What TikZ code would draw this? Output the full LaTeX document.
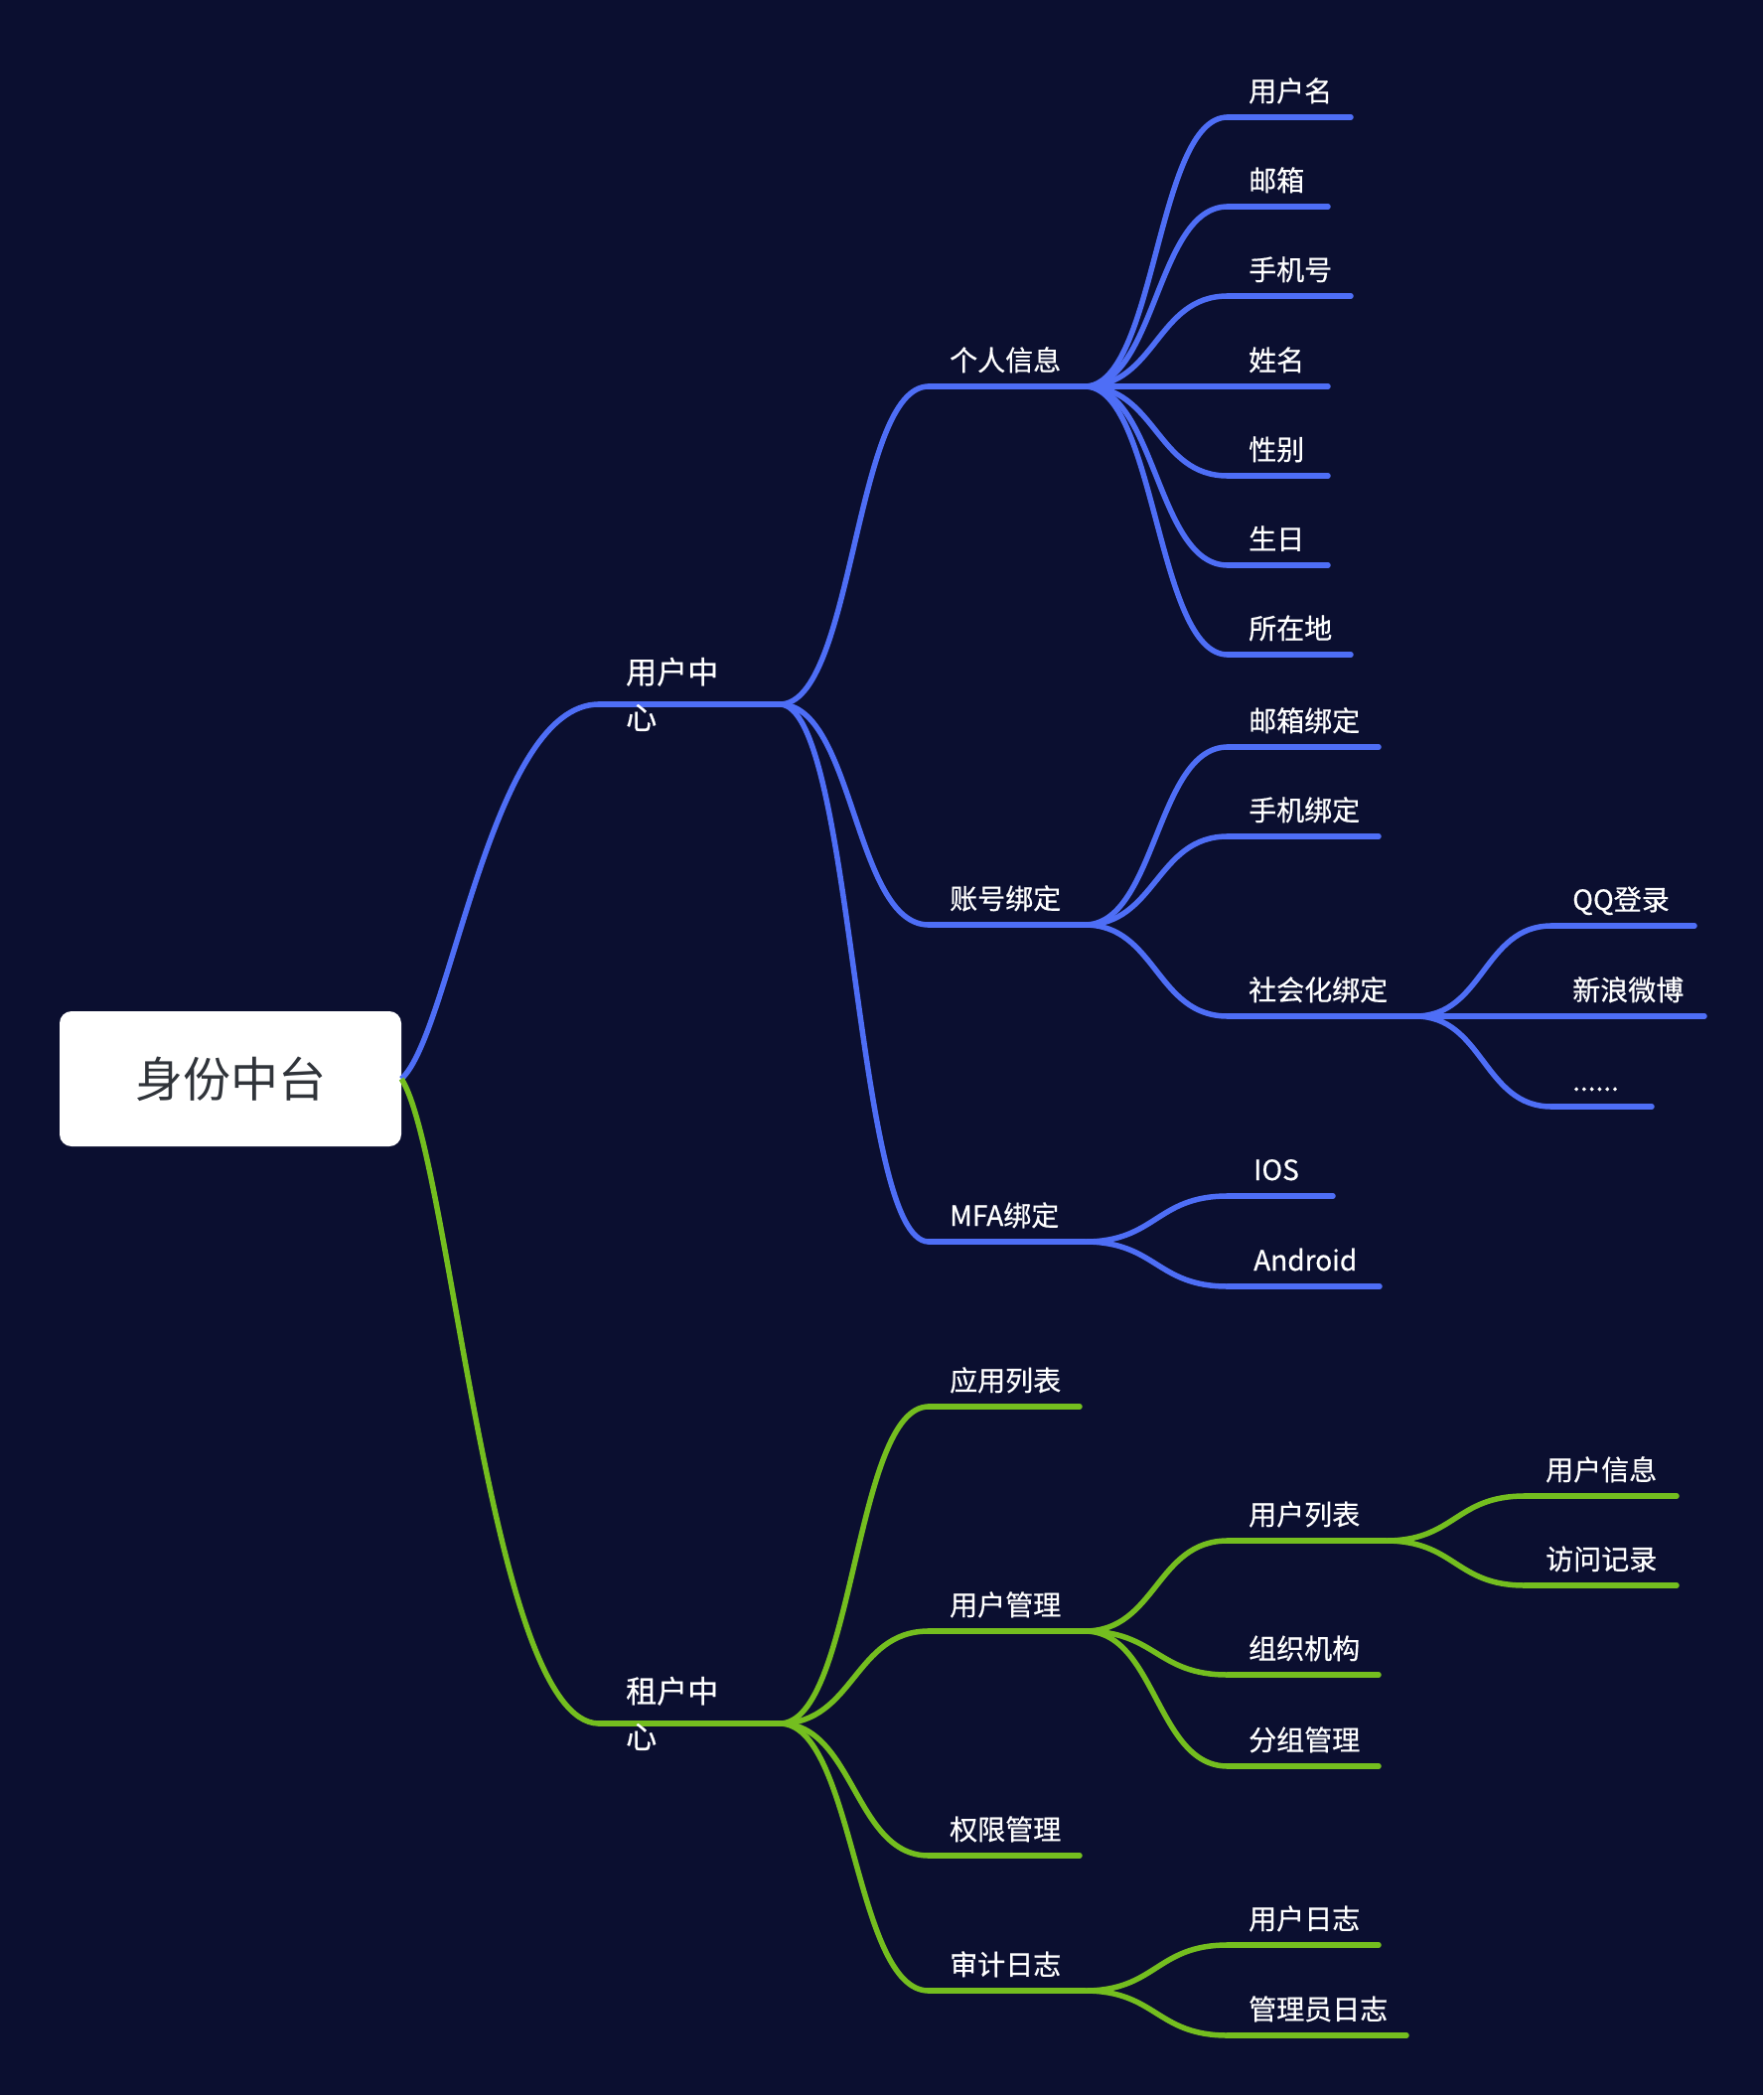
\documentclass[tikz,border=0pt]{standalone}
\usepackage{fontspec}
\setmainfont{Noto Sans CJK SC}
\newfontfamily\lblfont{Noto Sans CJK SC}[FakeBold=0.5]
\usetikzlibrary{calc}
\definecolor{bgc}{HTML}{0B0F30}
\definecolor{blc}{HTML}{4E6EF6}
\definecolor{grc}{HTML}{74BE1F}
\definecolor{rtc}{HTML}{30343A}
\tikzset{
  lbl/.style={anchor=base west, text=white, inner sep=0pt, font=\lblfont\fontsize{28}{34}\selectfont},
  lbltop/.style={anchor=base west, text=white, inner sep=0pt, align=left, font=\lblfont\fontsize{31}{46}\selectfont},
  bline/.style={line width=5.5pt, line cap=round, draw=blc},
  gline/.style={line width=5.5pt, line cap=round, draw=grc},
  rootlink/.style={line width=5.5pt, line cap=butt},
  rootbox/.style={fill=white, rounded corners=12pt, minimum width=344pt, minimum height=136pt, inner sep=0pt, text=rtc, font=\fontsize{48}{56}\selectfont},
}
% #1 name, #2 style, #3 x start, #4 x end, #5 y, #6 text
\newcommand\leaf[6]{%
  \coordinate (#1-s) at (#3,#5);
  \coordinate (#1-e) at (#4,#5);
  \draw[#2] (#1-s) -- (#1-e);
  \node[lbl] (#1) at ([xshift=21pt,yshift=16pt]#1-s) {#6};
}
\newcommand\leafx[6]{%
  \coordinate (#1-s) at (#3,#5);
  \coordinate (#1-e) at (#4,#5);
  \draw[#2] (#1-s) -- (#1-e);
  \node[lbl] (#1) at ([xshift=26pt,yshift=16pt]#1-s) {#6};
}
\newcommand\lnk[3]{\draw[#1] let \p1=(#2), \p2=(#3) in (#2) .. controls ({0.5*\x1+0.5*\x2},\y1) and ({0.5*\x1+0.5*\x2},\y2) .. (#3);}
\newcommand\rlnk[3]{\draw[#1] let \p1=(#2), \p2=(#3) in (#2) .. controls ({\x1+0.25*(\x2-\x1)},{\y1+0.12*(\y2-\y1)}) and ({\x1+0.45*(\x2-\x1)},\y2) .. (#3);}
\begin{document}
\begin{tikzpicture}[x=1pt,y=-1pt]
\fill[bgc] (0,0) rectangle (1775,2109);
\node[rootbox] (root) at (232,1086) {身份中台};

% ---- level 1
\coordinate (uc-s) at (603,709); \coordinate (uc-e) at (785,709);
\coordinate (zh-s) at (603,1735); \coordinate (zh-e) at (785,1735);
\rlnk{rootlink,draw=blc}{root.east}{uc-s}
\rlnk{rootlink,draw=grc}{root.east}{zh-s}
\draw[bline] (uc-s) -- (uc-e);
\draw[gline] (zh-s) -- (zh-e);
\node[lbltop] (uc) at ([xshift=27pt,yshift=-25pt]uc-s) {用户中\\心};
\node[lbltop] (zh) at ([xshift=27pt,yshift=-25pt]zh-s) {租户中\\心};

% ---- blue level 2
\leaf{gr}{bline}{935}{1092}{389}{个人信息}
\leaf{zb}{bline}{935}{1092}{931}{账号绑定}
\leaf{mfa}{bline}{935}{1092}{1250}{MFA绑定}
\lnk{bline}{uc-e}{gr-s}
\lnk{bline}{uc-e}{zb-s}
\lnk{bline}{uc-e}{mfa-s}

% ---- under 个人信息
\leaf{g1}{bline}{1236}{1360}{118}{用户名}
\leaf{g2}{bline}{1236}{1337}{208}{邮箱}
\leaf{g3}{bline}{1236}{1360}{298}{手机号}
\leaf{g4}{bline}{1236}{1337}{389}{姓名}
\leaf{g5}{bline}{1236}{1337}{479}{性别}
\leaf{g6}{bline}{1236}{1337}{569}{生日}
\leaf{g7}{bline}{1236}{1360}{659}{所在地}
\foreach \k in {g1,g2,g3,g4,g5,g6,g7}{\lnk{bline}{gr-e}{\k-s}}

% ---- under 账号绑定
\leaf{z1}{bline}{1236}{1388}{752}{邮箱绑定}
\leaf{z2}{bline}{1236}{1388}{842}{手机绑定}
\leaf{z3}{bline}{1236}{1425}{1023}{社会化绑定}
\foreach \k in {z1,z2,z3}{\lnk{bline}{zb-e}{\k-s}}
\leaf{s1}{bline}{1562}{1706}{932}{QQ登录}
\leaf{s2}{bline}{1562}{1716}{1023}{新浪微博}
\leaf{s3}{bline}{1562}{1663}{1114}{......}
\foreach \k in {s1,s2,s3}{\lnk{bline}{z3-e}{\k-s}}

% ---- under MFA绑定
\leafx{m1}{bline}{1236}{1342}{1204}{IOS}
\leafx{m2}{bline}{1236}{1389}{1295}{Android}
\foreach \k in {m1,m2}{\lnk{bline}{mfa-e}{\k-s}}

% ---- green level 2
\leaf{a1}{gline}{935}{1087}{1416}{应用列表}
\leaf{a2}{gline}{935}{1092}{1642}{用户管理}
\leaf{a3}{gline}{935}{1087}{1868}{权限管理}
\leaf{a4}{gline}{935}{1092}{2004}{审计日志}
\foreach \k in {a1,a2,a3,a4}{\lnk{gline}{zh-e}{\k-s}}

% ---- under 用户管理
\leaf{b1}{gline}{1236}{1395}{1551}{用户列表}
\leaf{b2}{gline}{1236}{1388}{1686}{组织机构}
\leaf{b3}{gline}{1236}{1388}{1778}{分组管理}
\foreach \k in {b1,b2,b3}{\lnk{gline}{a2-e}{\k-s}}
\leaf{c1}{gline}{1535}{1688}{1506}{用户信息}
\leaf{c2}{gline}{1535}{1688}{1596}{访问记录}
\foreach \k in {c1,c2}{\lnk{gline}{b1-e}{\k-s}}

% ---- under 审计日志
\leaf{d1}{gline}{1236}{1388}{1958}{用户日志}
\leaf{d2}{gline}{1236}{1416}{2049}{管理员日志}
\foreach \k in {d1,d2}{\lnk{gline}{a4-e}{\k-s}}
\end{tikzpicture}
\end{document}
